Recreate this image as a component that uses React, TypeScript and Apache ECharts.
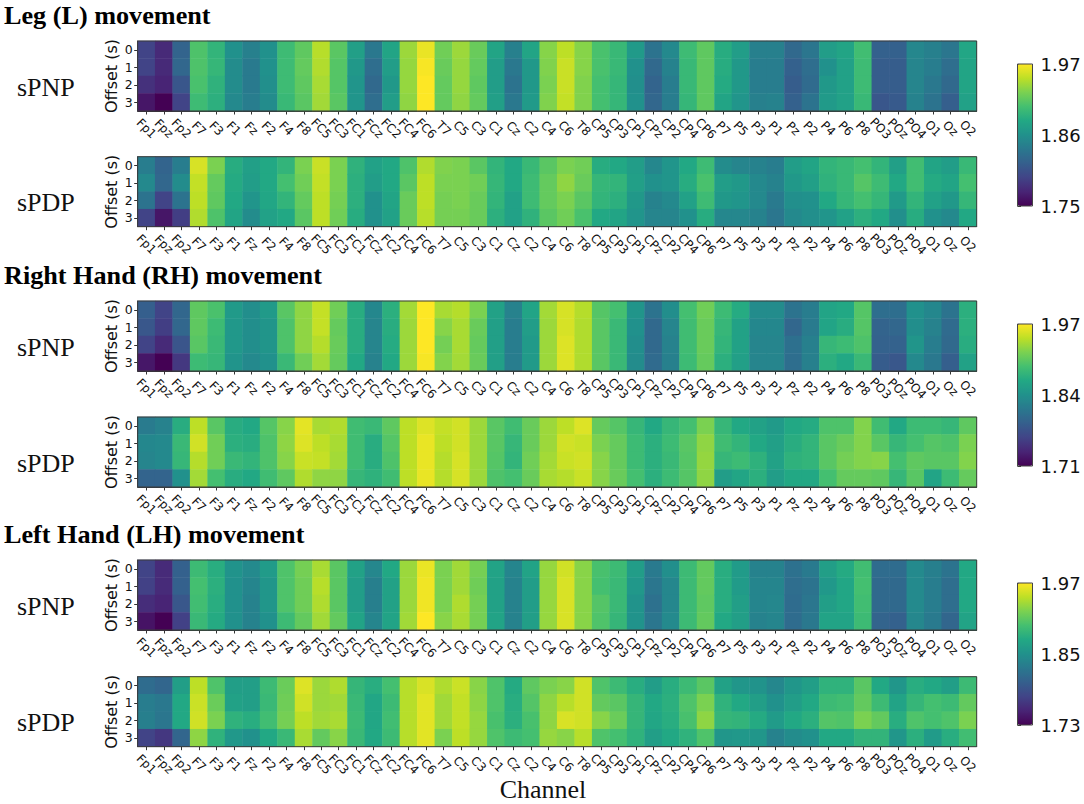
import { useEffect, useRef } from "react";
import * as echarts from "echarts";

const channels = [
  "Fp1", "Fpz", "Fp2", "F7", "F3", "F1", "Fz", "F2", "F4", "F8",
  "FC5", "FC3", "FC1", "FCz", "FC2", "FC4", "FC6",
  "T7", "C5", "C3", "C1", "Cz", "C2", "C4", "C6", "T8",
  "CP5", "CP3", "CP1", "CPz", "CP2", "CP4", "CP6",
  "P7", "P5", "P3", "P1", "Pz", "P2", "P4", "P6", "P8",
  "PO3", "POz", "PO4", "O1", "Oz", "O2",
];
const offsets = ["0", "1", "2", "3"];

// one entry per channel: values at offset 0, 1, 2, 3
const legPnp = [
  [1.794,1.794,1.781,1.763],[1.776,1.776,1.772,1.750],[1.820,1.823,1.809,1.794],[1.908,1.908,1.906,1.900],
  [1.893,1.895,1.891,1.889],[1.860,1.856,1.856,1.853],[1.845,1.840,1.840,1.842],[1.860,1.860,1.858,1.856],
  [1.900,1.900,1.900,1.897],[1.915,1.917,1.915,1.913],[1.946,1.944,1.941,1.939],[1.913,1.911,1.911,1.913],
  [1.873,1.867,1.864,1.864],[1.838,1.829,1.825,1.829],[1.878,1.871,1.867,1.871],[1.937,1.935,1.935,1.933],
  [1.963,1.968,1.970,1.970],[1.922,1.919,1.917,1.917],[1.937,1.935,1.935,1.933],[1.919,1.917,1.915,1.917],
  [1.878,1.871,1.871,1.873],[1.845,1.838,1.834,1.838],[1.878,1.867,1.867,1.869],[1.930,1.928,1.926,1.928],
  [1.948,1.952,1.952,1.950],[1.930,1.930,1.928,1.928],[1.906,1.906,1.904,1.904],[1.897,1.897,1.895,1.895],
  [1.869,1.860,1.858,1.860],[1.834,1.825,1.820,1.823],[1.853,1.847,1.842,1.842],[1.900,1.897,1.897,1.895],
  [1.915,1.915,1.915,1.915],[1.886,1.886,1.884,1.878],[1.871,1.867,1.867,1.864],[1.845,1.842,1.842,1.845],
  [1.845,1.842,1.842,1.847],[1.825,1.818,1.814,1.818],[1.836,1.829,1.827,1.834],[1.871,1.860,1.867,1.869],
  [1.878,1.875,1.875,1.875],[1.902,1.900,1.900,1.897],[1.818,1.814,1.814,1.809],[1.818,1.814,1.814,1.812],
  [1.851,1.849,1.849,1.847],[1.845,1.842,1.838,1.834],[1.836,1.829,1.825,1.816],[1.880,1.878,1.878,1.875],
];
const legPdp = [
  [1.842,1.853,1.834,1.794],[1.820,1.823,1.794,1.763],[1.842,1.856,1.834,1.790],[1.957,1.950,1.948,1.944],
  [1.926,1.917,1.915,1.908],[1.886,1.884,1.882,1.878],[1.873,1.871,1.864,1.856],[1.882,1.882,1.880,1.875],
  [1.893,1.904,1.893,1.882],[1.926,1.922,1.917,1.913],[1.952,1.950,1.948,1.948],[1.926,1.926,1.924,1.922],
  [1.891,1.889,1.889,1.886],[1.875,1.871,1.860,1.860],[1.882,1.882,1.878,1.875],[1.908,1.913,1.919,1.919],
  [1.944,1.948,1.948,1.946],[1.928,1.926,1.924,1.924],[1.926,1.926,1.926,1.924],[1.913,1.922,1.919,1.919],
  [1.893,1.895,1.893,1.889],[1.882,1.882,1.875,1.875],[1.897,1.900,1.900,1.891],[1.913,1.917,1.917,1.913],
  [1.926,1.933,1.926,1.922],[1.922,1.919,1.913,1.906],[1.886,1.895,1.893,1.882],[1.882,1.893,1.889,1.878],
  [1.871,1.873,1.867,1.864],[1.851,1.860,1.847,1.849],[1.864,1.864,1.853,1.849],[1.882,1.886,1.875,1.860],
  [1.900,1.906,1.900,1.886],[1.856,1.871,1.867,1.851],[1.849,1.867,1.864,1.851],[1.847,1.853,1.853,1.847],
  [1.842,1.847,1.840,1.836],[1.871,1.867,1.858,1.853],[1.878,1.873,1.860,1.858],[1.893,1.891,1.882,1.864],
  [1.897,1.897,1.895,1.875],[1.904,1.911,1.904,1.889],[1.893,1.900,1.895,1.882],[1.873,1.882,1.869,1.858],
  [1.902,1.902,1.893,1.886],[1.878,1.884,1.875,1.860],[1.871,1.878,1.867,1.853],[1.897,1.904,1.895,1.882],
];
const rightPnp = [
  [1.788,1.780,1.762,1.726],[1.762,1.757,1.741,1.710],[1.796,1.796,1.778,1.752],[1.905,1.905,1.902,1.887],
  [1.895,1.887,1.884,1.882],[1.850,1.848,1.848,1.843],[1.837,1.837,1.837,1.832],[1.850,1.845,1.845,1.840],
  [1.902,1.897,1.897,1.884],[1.926,1.926,1.926,1.913],[1.947,1.947,1.941,1.934],[1.913,1.908,1.910,1.908],
  [1.871,1.871,1.871,1.866],[1.830,1.827,1.827,1.824],[1.874,1.871,1.869,1.866],[1.934,1.931,1.931,1.931],
  [1.970,1.970,1.970,1.967],[1.936,1.923,1.915,1.921],[1.941,1.936,1.936,1.934],[1.918,1.910,1.908,1.910],
  [1.858,1.856,1.856,1.856],[1.824,1.819,1.819,1.819],[1.861,1.853,1.850,1.850],[1.934,1.931,1.931,1.931],
  [1.954,1.954,1.957,1.957],[1.941,1.939,1.939,1.939],[1.900,1.902,1.902,1.902],[1.892,1.884,1.884,1.884],
  [1.845,1.840,1.837,1.835],[1.809,1.798,1.798,1.801],[1.837,1.827,1.824,1.822],[1.892,1.889,1.889,1.887],
  [1.913,1.910,1.910,1.908],[1.887,1.882,1.879,1.874],[1.869,1.858,1.858,1.856],[1.835,1.830,1.827,1.827],
  [1.835,1.830,1.827,1.827],[1.809,1.796,1.806,1.804],[1.819,1.817,1.822,1.822],[1.861,1.861,1.882,1.874],
  [1.866,1.871,1.887,1.866],[1.900,1.900,1.897,1.884],[1.804,1.793,1.791,1.785],[1.804,1.796,1.791,1.780],
  [1.840,1.837,1.845,1.832],[1.830,1.824,1.819,1.814],[1.809,1.801,1.798,1.788],[1.874,1.874,1.871,1.858],
];
const rightPdp = [
  [1.817,1.830,1.827,1.793],[1.824,1.832,1.832,1.793],[1.871,1.884,1.882,1.840],[1.944,1.952,1.941,1.934],
  [1.902,1.913,1.913,1.892],[1.871,1.874,1.884,1.871],[1.866,1.871,1.879,1.866],[1.900,1.897,1.897,1.889],
  [1.923,1.926,1.923,1.905],[1.960,1.957,1.949,1.939],[1.936,1.944,1.947,1.926],[1.939,1.936,1.934,1.926],
  [1.889,1.889,1.889,1.882],[1.884,1.871,1.871,1.876],[1.905,1.900,1.897,1.889],[1.944,1.944,1.944,1.944],
  [1.957,1.962,1.962,1.962],[1.947,1.944,1.941,1.941],[1.952,1.952,1.954,1.954],[1.931,1.931,1.931,1.931],
  [1.902,1.902,1.900,1.897],[1.889,1.882,1.879,1.892],[1.910,1.910,1.913,1.910],[1.931,1.931,1.934,1.936],
  [1.944,1.952,1.949,1.941],[1.957,1.949,1.952,1.949],[1.908,1.918,1.923,1.923],[1.900,1.908,1.908,1.910],
  [1.882,1.887,1.887,1.892],[1.866,1.874,1.874,1.874],[1.882,1.887,1.884,1.887],[1.892,1.902,1.900,1.900],
  [1.918,1.926,1.928,1.926],[1.882,1.889,1.882,1.853],[1.866,1.879,1.887,1.863],[1.858,1.866,1.876,1.874],
  [1.850,1.856,1.858,1.853],[1.866,1.871,1.876,1.866],[1.869,1.879,1.879,1.866],[1.897,1.902,1.902,1.892],
  [1.897,1.910,1.915,1.908],[1.921,1.921,1.921,1.908],[1.889,1.902,1.923,1.905],[1.866,1.882,1.892,1.882],
  [1.887,1.892,1.905,1.902],[1.887,1.900,1.902,1.861],[1.882,1.897,1.902,1.887],[1.905,1.918,1.921,1.908],
];
const leftPnp = [
  [1.778,1.776,1.761,1.742],[1.759,1.759,1.754,1.730],[1.804,1.804,1.795,1.776],[1.893,1.898,1.896,1.891],
  [1.879,1.881,1.879,1.876],[1.852,1.850,1.850,1.850],[1.843,1.838,1.836,1.836],[1.860,1.855,1.855,1.850],
  [1.903,1.903,1.903,1.893],[1.920,1.917,1.917,1.912],[1.939,1.944,1.941,1.936],[1.908,1.908,1.908,1.912],
  [1.867,1.862,1.862,1.869],[1.840,1.833,1.833,1.838],[1.874,1.867,1.867,1.869],[1.934,1.934,1.934,1.936],
  [1.963,1.965,1.965,1.970],[1.922,1.922,1.922,1.927],[1.936,1.936,1.941,1.939],[1.920,1.917,1.920,1.920],
  [1.869,1.867,1.867,1.869],[1.838,1.836,1.836,1.836],[1.869,1.862,1.862,1.864],[1.932,1.932,1.932,1.932],
  [1.953,1.956,1.956,1.956],[1.927,1.927,1.927,1.927],[1.900,1.898,1.905,1.903],[1.893,1.891,1.891,1.888],
  [1.862,1.857,1.852,1.852],[1.828,1.824,1.819,1.824],[1.848,1.840,1.840,1.843],[1.893,1.893,1.893,1.893],
  [1.912,1.912,1.910,1.912],[1.879,1.879,1.879,1.874],[1.860,1.860,1.864,1.864],[1.836,1.838,1.838,1.836],
  [1.836,1.838,1.840,1.838],[1.819,1.816,1.814,1.814],[1.828,1.821,1.824,1.826],[1.864,1.857,1.864,1.869],
  [1.876,1.872,1.872,1.869],[1.896,1.898,1.896,1.893],[1.814,1.812,1.812,1.807],[1.814,1.812,1.812,1.804],
  [1.843,1.843,1.843,1.840],[1.833,1.831,1.831,1.828],[1.821,1.816,1.816,1.809],[1.874,1.874,1.874,1.869],
];
const leftPdp = [
  [1.814,1.831,1.833,1.778],[1.809,1.826,1.824,1.768],[1.864,1.874,1.874,1.809],[1.946,1.951,1.953,1.929],
  [1.903,1.915,1.922,1.884],[1.864,1.867,1.884,1.857],[1.864,1.864,1.879,1.850],[1.893,1.891,1.896,1.874],
  [1.915,1.917,1.920,1.891],[1.958,1.953,1.946,1.939],[1.934,1.934,1.936,1.912],[1.941,1.936,1.939,1.927],
  [1.888,1.891,1.893,1.891],[1.879,1.872,1.872,1.874],[1.898,1.893,1.896,1.893],[1.944,1.944,1.944,1.944],
  [1.956,1.960,1.960,1.960],[1.941,1.936,1.936,1.922],[1.951,1.948,1.948,1.946],[1.927,1.929,1.932,1.932],
  [1.903,1.903,1.900,1.903],[1.876,1.879,1.881,1.893],[1.910,1.905,1.900,1.898],[1.922,1.929,1.929,1.932],
  [1.927,1.944,1.956,1.927],[1.953,1.953,1.953,1.944],[1.903,1.912,1.927,1.903],[1.893,1.908,1.915,1.898],
  [1.879,1.888,1.888,1.884],[1.862,1.874,1.872,1.864],[1.879,1.881,1.879,1.874],[1.893,1.903,1.900,1.884],
  [1.908,1.922,1.929,1.903],[1.867,1.884,1.888,1.855],[1.855,1.874,1.886,1.857],[1.852,1.864,1.876,1.855],
  [1.840,1.850,1.860,1.836],[1.855,1.862,1.874,1.845],[1.864,1.874,1.881,1.850],[1.884,1.893,1.905,1.874],
  [1.884,1.896,1.903,1.874],[1.908,1.912,1.922,1.886],[1.874,1.893,1.912,1.886],[1.855,1.869,1.879,1.855],
  [1.879,1.888,1.903,1.881],[1.874,1.898,1.898,1.860],[1.864,1.893,1.903,1.879],[1.893,1.912,1.922,1.896],
];

const viridis = [
  "#440154", "#482475", "#414487", "#355f8d", "#2a788e", "#21918c",
  "#22a884", "#44bf70", "#7ad151", "#bddf26", "#fde725",
];

const SANS = "DejaVu Sans";
const SERIF = "Liberation Serif";
const GRID_LEFT = 137.7;
const GRID_WIDTH = 839;
const BAR_LEFT = 1017.5;
const BAR_WIDTH = 15;
const BAR_HEIGHT = 142;

const panels = [
  { name: "sPNP", top: 41, values: legPnp },
  { name: "sPDP", top: 156.7, values: legPdp },
  { name: "sPNP", top: 301, values: rightPnp },
  { name: "sPDP", top: 417, values: rightPdp },
  { name: "sPNP", top: 560, values: leftPnp },
  { name: "sPDP", top: 676.7, values: leftPdp },
];
const PANEL_HEIGHT = 70;
const groups = [
  { title: "Leg (L) movement", titleY: 15, barTop: 64, ticks: [1.75, 1.86, 1.97] },
  { title: "Right Hand (RH) movement", titleY: 275, barTop: 324, ticks: [1.71, 1.84, 1.97] },
  { title: "Left Hand (LH) movement", titleY: 534, barTop: 583, ticks: [1.73, 1.85, 1.97] },
];

function buildOption() {
  const grid: any[] = [];
  const xAxis: any[] = [];
  const yAxis: any[] = [];
  const series: any[] = [];
  const graphic: any[] = [];

  panels.forEach((p, i) => {
    grid.push({ left: GRID_LEFT, top: p.top, width: GRID_WIDTH, height: PANEL_HEIGHT });
    xAxis.push({
      type: "category",
      gridIndex: i,
      data: channels,
      axisLine: { show: true, lineStyle: { color: "#333" } },
      axisTick: { show: true, alignWithLabel: true, length: 3.5, lineStyle: { color: "#333" } },
      axisLabel: {
        interval: 0,
        rotate: -45,
        align: "center",
        verticalAlign: "middle",
        margin: 17.5,
        fontFamily: SANS,
        fontSize: 12,
        color: "#111",
      },
    });
    yAxis.push({
      type: "category",
      gridIndex: i,
      data: offsets,
      inverse: true,
      name: "Offset (s)",
      nameLocation: "middle",
      nameGap: 18,
      nameMoveOverlap: false,
      nameRotate: 90,
      nameTextStyle: { fontFamily: SANS, fontSize: 16, color: "#111" },
      axisLine: { show: true, lineStyle: { color: "#333" } },
      axisTick: { show: true, alignWithLabel: true, length: 3.5, lineStyle: { color: "#333" } },
      axisLabel: { interval: 0, margin: 5, fontFamily: SANS, fontSize: 12.5, color: "#111" },
    });
    const data: number[][] = [];
    p.values.forEach((column, x) => column.forEach((v, y) => data.push([x, y, v])));
    series.push({ type: "heatmap", xAxisIndex: i, yAxisIndex: i, data, progressive: 0 });

    graphic.push({
      type: "rect",
      silent: true,
      z: 20,
      shape: { x: GRID_LEFT, y: p.top, width: GRID_WIDTH, height: PANEL_HEIGHT },
      style: { fill: "none", stroke: "#3a3a3a", lineWidth: 1 },
    });
    graphic.push({
      type: "text",
      x: 17,
      y: p.top + 46,
      style: {
        text: p.name,
        fontFamily: SERIF,
        fontSize: 26,
        fill: "#111",
        verticalAlign: "middle",
      },
    });
  });

  const visualMap = groups.map((g, k) => {
    const gi = panels.length + k;
    grid.push({ left: BAR_LEFT, top: g.barTop, width: BAR_WIDTH, height: BAR_HEIGHT });
    xAxis.push({ type: "value", gridIndex: gi, show: false, min: 0, max: 1 });
    yAxis.push({
      type: "value",
      gridIndex: gi,
      position: "right",
      min: g.ticks[0],
      max: g.ticks[2],
      splitLine: { show: false },
      axisLine: { show: false },
      axisTick: { show: true, length: 3.5, lineStyle: { color: "#333" }, customValues: g.ticks },
      axisLabel: {
        margin: 8,
        fontFamily: SANS,
        fontSize: 18,
        color: "#111",
        customValues: g.ticks,
        formatter: (v: number) => v.toFixed(2),
      },
    });
    graphic.push({
      type: "rect",
      silent: true,
      z: 20,
      shape: { x: BAR_LEFT, y: g.barTop, width: BAR_WIDTH, height: BAR_HEIGHT },
      style: { fill: "none", stroke: "#444", lineWidth: 1 },
    });
    graphic.push({
      type: "text",
      x: 4,
      y: g.titleY,
      style: {
        text: g.title,
        fontFamily: SERIF,
        fontWeight: "bold",
        fontSize: 26.2,
        fill: "#000",
        verticalAlign: "middle",
      },
    });
    return {
      type: "continuous",
      seriesIndex: [k * 2, k * 2 + 1],
      min: g.ticks[0],
      max: g.ticks[2],
      left: BAR_LEFT,
      top: g.barTop,
      itemWidth: BAR_WIDTH,
      itemHeight: BAR_HEIGHT,
      padding: 0,
      calculable: false,
      hoverLink: false,
      inRange: { color: viridis },
    };
  });

  graphic.push({
    type: "text",
    x: 543,
    y: 789.5,
    style: {
      text: "Channel",
      fontFamily: SERIF,
      fontSize: 26,
      fill: "#111",
      align: "center",
      verticalAlign: "middle",
    },
  });

  return { animation: false, backgroundColor: "#fff", grid, xAxis, yAxis, series, visualMap, graphic };
}

export default function App() {
  const chartRef = useRef<HTMLDivElement>(null);

  useEffect(() => {
    const myChart = echarts.init(chartRef.current!, null, { renderer: "svg" });
    myChart.setOption(buildOption());
    return () => myChart.dispose();
  }, []);

  return (
    <div
      ref={chartRef}
      style={{ position: "fixed", left: 0, top: 0, width: "1084px", height: "804px" }}
    />
  );
}
